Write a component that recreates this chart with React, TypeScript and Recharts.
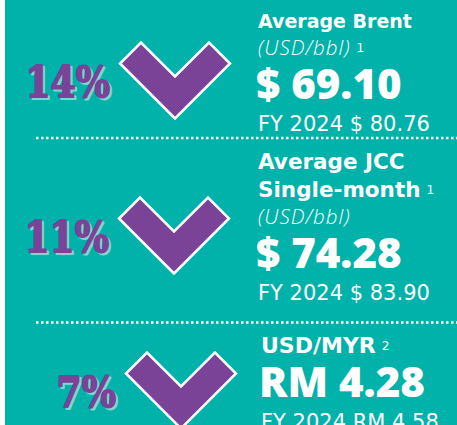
import React from 'react';
import { BarChart, Bar, XAxis, YAxis } from 'recharts';

// rows of the infographic, top to bottom
const metrics = ['Brent', 'JCC', 'USD/MYR'];
const declinePct = [14, 11, 7];
const titleLines = [['Average Brent'], ['Average JCC', 'Single-month'], ['USD/MYR']];
const units = ['(USD/bbl)', '(USD/bbl)', ''];
const footnotes = ['1', '1', '2'];
const noteOnTitle = [false, true, true];
const currency = ['$', '$', 'RM'];
const currentValues = [69.1, 74.28, 4.28];
const fy2024Values = [80.76, 83.9, 4.58];

const TEAL = '#00b2a9';
const PURPLE = '#7b4397';
const SHADOW = '#80d6cf';

// small per-row nudges, the original stack is not evenly spaced
const rowShift = [
  { dx: 0, dy: 0, tx: 0, ty: 0, title: 19 },
  { dx: -1, dy: 0, tx: 0, ty: 0, title: 21.5 },
  { dx: 6, dy: 0, tx: 3, ty: 2, title: 22 },
];

const data = metrics.map((m, i) => ({
  metric: m,
  pct: declinePct[i],
  titles: titleLines[i],
  unit: units[i],
  note: footnotes[i],
  noteOnTitle: noteOnTitle[i],
  label: `${currency[i]} ${currentValues[i].toFixed(2)}`,
  prev: `FY 2024 ${currency[i]} ${fy2024Values[i].toFixed(2)}`,
}));

const SANS = "'DejaVu Sans', sans-serif";
const SLAB = "'DejaVu Serif', serif";

const Sup = ({ t }: { t: string }) => (
  <tspan dx={6} dy={-3} fontSize={12} fontWeight={400} fontStyle="normal" letterSpacing={0} fontFamily={SANS}>
    {t}
  </tspan>
);

const ChevronRow = (props: any) => {
  const { x, y, height, index, payload } = props;
  const s = rowShift[index];
  const cx = x + 175 + s.dx;
  const cy = y + height / 2 + s.dy;

  const pts = [
    [0, 39], [-55, -16], [-34, -37], [0, -3], [34, -37], [55, -16],
  ].map(([px, py]) => `${cx + px},${cy + py}`).join(' ');

  // text block, stacked line by line and centred a bit above the chevron
  const lines: any[] = [];
  payload.titles.forEach((t: string, k: number) => {
    lines.push({ kind: 'title', text: t, adv: k === 0 ? 0 : 28, last: k === payload.titles.length - 1 });
  });
  if (payload.unit) lines.push({ kind: 'unit', text: payload.unit, adv: 27 });
  lines.push({ kind: 'big', text: payload.label, adv: 44 });
  lines.push({ kind: 'prev', text: payload.prev, adv: 32 });
  const total = lines.reduce((a, l) => a + l.adv, 0) + 14;
  const blockTop = cy - 7.5 - total / 2 + s.ty;
  const tx = 258 + s.tx;
  let base = blockTop + 14;

  const texts = lines.map((l, k) => {
    base += l.adv;
    if (l.kind === 'title') {
      return (
        <text key={k} x={tx} y={base} fill="#fff" fontFamily={SANS} fontWeight={700} fontSize={s.title}>
          {l.text}
          {payload.noteOnTitle && l.last ? <Sup t={payload.note} /> : null}
        </text>
      );
    }
    if (l.kind === 'unit') {
      return (
        <text key={k} x={tx} y={base} fill="#fff" fontFamily="'Open Sans', sans-serif" fontWeight={300}
          fontStyle="italic" fontSize={20.5} letterSpacing={1}>
          {l.text}
          {!payload.noteOnTitle ? <Sup t={payload.note} /> : null}
        </text>
      );
    }
    if (l.kind === 'big') {
      return (
        <text key={k} x={tx - 2} y={base} fill="#fff" fontFamily="'Open Sans', sans-serif" fontWeight={800}
          fontSize={42}>
          {l.text}
        </text>
      );
    }
    return (
      <text key={k} x={tx} y={base} fill="#fff" fontFamily={SANS} fontWeight={400} fontSize={21}>
        {l.text}
      </text>
    );
  });

  const pctText = `${payload.pct}%`;
  const px = cx - 65;
  const py = cy + 17;

  return (
    <g>
      {index > 0 && (
        <line x1={36} x2={460} y1={blockTop - 16.5} y2={blockTop - 16.5} stroke="#fff"
          strokeWidth={2.5} strokeDasharray="2.5 2.5" />
      )}
      <polygon points={pts} fill={PURPLE} stroke="#fff" strokeWidth={2.5} strokeLinejoin="miter" />
      <g transform={`translate(${px},${py}) scale(0.84,1)`}>
        <text x={2.4} y={2} textAnchor="end" fill={SHADOW} stroke={SHADOW} strokeWidth={1.8}
          strokeLinejoin="round" fontFamily={SLAB} fontWeight={700} fontSize={43}>
          {pctText}
        </text>
        <text x={0} y={0} textAnchor="end" fill={PURPLE} stroke={PURPLE} strokeWidth={1.8}
          strokeLinejoin="round" fontFamily={SLAB} fontWeight={700} fontSize={43}>
          {pctText}
        </text>
      </g>
      {texts}
    </g>
  );
};

export default function App() {
  return (
    <div
      style={{
        position: 'fixed',
        left: 0,
        top: 0,
        width: 457,
        height: 425,
        overflow: 'hidden',
        background: `linear-gradient(to right, #fff 5px, ${TEAL} 5px)`,
      }}
    >
      <BarChart
        width={457}
        height={480}
        data={data}
        layout="vertical"
        margin={{ top: 2, right: 0, bottom: 13, left: 0 }}
        barCategoryGap={0}
      >
        <XAxis type="number" domain={[0, 100]} hide />
        <YAxis type="category" dataKey="metric" hide width={0} />
        <Bar dataKey="pct" shape={ChevronRow} isAnimationActive={false} />
      </BarChart>
    </div>
  );
}
